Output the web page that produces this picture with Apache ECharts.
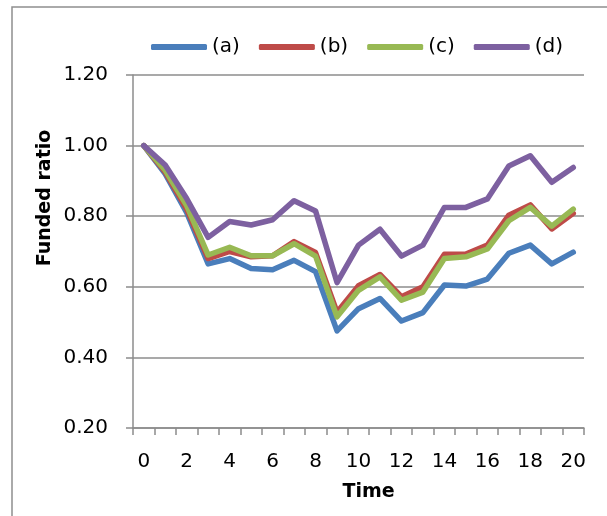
<!DOCTYPE html>
<html>
<head>
<meta charset="utf-8">
<script src="https://cdn.jsdelivr.net/npm/echarts@6/dist/echarts.min.js"></script>
<style>
  html, body { margin: 0; padding: 0; background: #fff; }
  #chart { width: 607px; height: 516px; }
</style>
</head>
<body>
<div id="chart"></div>
<script>
	// data
	var timeSteps = ['0','1','2','3','4','5','6','7','8','9','10','11','12','13','14','15','16','17','18','19','20'];
	var seriesNames = ['(a)', '(b)', '(c)', '(d)'];
	var serA = [1.00, 0.92, 0.81, 0.665, 0.68, 0.652, 0.648, 0.675, 0.643, 0.475, 0.538, 0.567, 0.503, 0.527, 0.605, 0.602, 0.622, 0.695, 0.718, 0.665, 0.698];
	var serB = [1.00, 0.925, 0.82, 0.68, 0.70, 0.685, 0.688, 0.728, 0.697, 0.528, 0.603, 0.635, 0.572, 0.60, 0.692, 0.693, 0.718, 0.803, 0.832, 0.764, 0.808];
	var serC = [1.00, 0.93, 0.83, 0.69, 0.712, 0.688, 0.688, 0.722, 0.687, 0.515, 0.59, 0.628, 0.562, 0.585, 0.68, 0.685, 0.707, 0.787, 0.825, 0.772, 0.82];
	var serD = [1.00, 0.945, 0.85, 0.74, 0.785, 0.775, 0.79, 0.844, 0.815, 0.612, 0.718, 0.763, 0.687, 0.718, 0.825, 0.825, 0.849, 0.942, 0.971, 0.896, 0.938];
	var colors = ['#4A7EBB', '#BE4B48', '#98B954', '#7D60A0'];

	var FONT = 'DejaVu Sans';
	var chart = echarts.init(document.getElementById('chart'));

	function makeLine(name, data, color) {
		return {
			name: name,
			type: 'line',
			data: data,
			showSymbol: false,
			symbol: 'none',
			lineStyle: { color: color, width: 5.5, cap: 'round', join: 'round' },
			itemStyle: { color: color },
			emphasis: { disabled: true },
			animation: false
		};
	}

	var option = {
		animation: false,
		grid: { left: 133, right: 23, top: 75, bottom: 88 },
		legend: {
			data: seriesNames,
			left: 146,
			top: 32,
			icon: 'roundRect',
			itemWidth: 56,
			itemHeight: 6,
			itemGap: 19,
			itemTextGap: 3,
			itemStyle: { borderWidth: 0 },
			textStyle: { fontFamily: FONT, fontSize: 20, color: '#000' }
		},
		xAxis: {
			type: 'category',
			data: timeSteps,
			boundaryGap: true,
			name: 'Time',
			nameLocation: 'middle',
			nameGap: 55,
			nameTextStyle: { fontFamily: FONT, fontSize: 19, fontWeight: 'bold', color: '#000', padding: [0, 0, 0, 20] },
			axisLine: { lineStyle: { color: '#8c8c8c', width: 1.5 } },
			axisTick: { show: true, interval: 0, length: 7, alignWithLabel: false, lineStyle: { color: '#8c8c8c', width: 1.5 } },
			axisLabel: { interval: 1, margin: 24, fontFamily: FONT, fontSize: 20, color: '#000' },
			splitLine: { show: false }
		},
		yAxis: {
			type: 'value',
			min: 0.2,
			max: 1.2,
			interval: 0.2,
			axisLine: { show: true, lineStyle: { color: '#8c8c8c', width: 1.5 } },
			axisTick: { show: true, length: 7, lineStyle: { color: '#8c8c8c', width: 1.5 } },
			axisLabel: {
				margin: 25,
				fontFamily: FONT,
				fontSize: 20,
				color: '#000',
				formatter: function(v) { return v.toFixed(2); }
			},
			splitLine: { show: true, lineStyle: { color: '#8c8c8c', width: 1.5 } }
		},
		graphic: [
			{
				type: 'rect',
				shape: { x: 12, y: 7, width: 800, height: 700 },
				style: { fill: 'none', stroke: '#8f8f8f', lineWidth: 1.5 },
				silent: true
			},
			{
				type: 'text',
				x: 45,
				y: 198,
				rotation: Math.PI / 2,
				style: {
					text: 'Funded ratio',
					font: 'bold 19px "' + FONT + '"',
					fill: '#000',
					align: 'center',
					verticalAlign: 'middle'
				},
				silent: true
			}
		],
		series: [
			makeLine(seriesNames[0], serA, colors[0]),
			makeLine(seriesNames[1], serB, colors[1]),
			makeLine(seriesNames[2], serC, colors[2]),
			makeLine(seriesNames[3], serD, colors[3])
		]
	};

	chart.setOption(option);
</script>
</body>
</html>
